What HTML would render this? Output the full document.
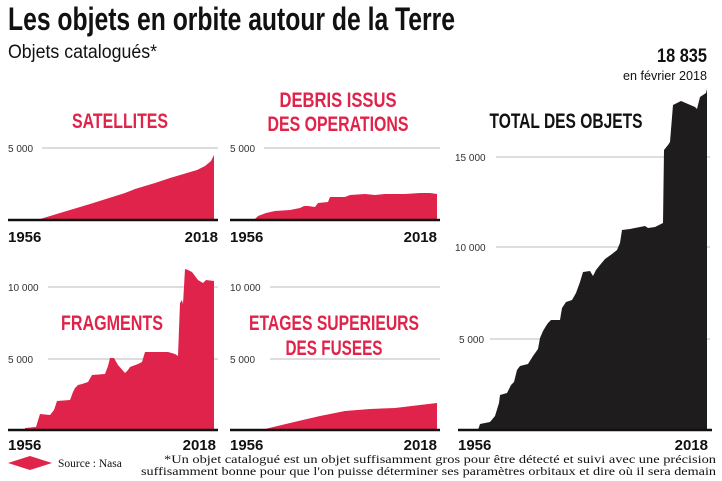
<!DOCTYPE html>
<html><head><meta charset="utf-8"><style>
body{margin:0;background:#fff;}
svg{display:block;}
.t{font-family:"Liberation Sans Narrow","Liberation Sans",sans-serif;font-weight:bold;}
.n{font-family:"Liberation Sans Narrow","Liberation Sans",sans-serif;}
.y{font-family:"Liberation Sans",sans-serif;font-weight:bold;font-size:15px;fill:#111;}
.g{font-family:"Liberation Sans",sans-serif;font-size:10px;fill:#333;}
.s{font-family:"Liberation Serif",serif;font-size:11.5px;fill:#111;}
</style></head><body>
<svg width="722" height="481" viewBox="0 0 722 481" xmlns="http://www.w3.org/2000/svg">
<text x="8" y="30" class="t" font-size="32" fill="#111" textLength="447" lengthAdjust="spacingAndGlyphs">Les objets en orbite autour de la Terre</text>
<text x="8" y="58" class="n" font-size="19" fill="#111" textLength="149" lengthAdjust="spacingAndGlyphs">Objets catalogués*</text>

<!-- gridlines -->
<g stroke="#bbb" stroke-width="1">
<line x1="42" y1="148" x2="218" y2="148"/>
<line x1="264" y1="148" x2="440" y2="148"/>
<line x1="48" y1="287" x2="218" y2="287"/>
<line x1="48" y1="359" x2="218" y2="359"/>
<line x1="270" y1="287" x2="440" y2="287"/>
<line x1="270" y1="359" x2="440" y2="359"/>
<line x1="496" y1="157" x2="710" y2="157"/>
<line x1="496" y1="247" x2="710" y2="247"/>
<line x1="490" y1="339" x2="710" y2="339"/>
</g>
<g class="g">
<text x="8" y="152">5 000</text>
<text x="230" y="152">5 000</text>
<text x="8" y="291">10 000</text>
<text x="8" y="363">5 000</text>
<text x="230" y="291">10 000</text>
<text x="230" y="363">5 000</text>
<text x="455" y="161">15 000</text>
<text x="455" y="251">10 000</text>
<text x="459" y="343">5 000</text>
</g>

<!-- satellites -->
<path fill="#e0234a" d="M37,220 L60,213 L90,204 L125,193 L135,189 L155,183 L170,178 L197,170 L205,166 L211,161 L214,155 L214,220 Z"/>
<!-- debris -->
<path fill="#e0234a" d="M254,220 L258,216 L266,213 L275,211 L290,210 L300,208 L304,206 L308,206 L315,207 L318,203 L328,202 L330,197 L345,197 L350,195 L365,194 L375,195 L385,194 L405,194 L420,193 L430,193 L437,194 L437,220 Z"/>
<!-- fragments -->
<path fill="#e0234a" d="M25,430 L25,428 L36,427 L40,414 L50,415 L54,410 L57,401 L70,400 L73,392 L75,388 L78,385 L82,384 L88,382 L92,375 L105,374 L108,366 L110,358 L114,358 L118,365 L125,373 L128,370 L130,367 L138,364 L142,362 L145,352 L158,352 L168,352 L175,354 L178,356 L180,303 L182,300 L183,304 L185,269 L188,270 L192,272 L198,280 L203,283 L206,280 L214,281 L214,430 Z"/>
<!-- etages -->
<path fill="#e0234a" d="M255,430 L265,429 L290,423 L320,416 L345,411 L370,409 L395,408 L420,405 L437,403 L437,430 Z"/>
<!-- total -->
<path fill="#1e1c1c" d="M478,430 L480,424 L490,422 L495,416 L499,403 L500,395 L507,393 L511,385 L514,382 L517,370 L520,366 L528,364 L533,356 L538,349 L540,338 L543,331 L546,326 L548,323 L551,320 L560,320 L562,308 L566,302 L572,300 L576,293 L580,282 L583,272 L590,271 L593,276 L596,270 L600,265 L605,259 L612,254 L617,250 L620,243 L622,230 L630,229 L640,227 L645,226 L648,228 L655,227 L663,223 L664,150 L668,145 L670,142 L673,105 L681,101 L695,107 L697,109 L700,97 L706,93 L707,89 L707,430 Z"/>

<!-- baselines -->
<g stroke="#111" stroke-width="2.5">
<line x1="8" y1="220" x2="218" y2="220"/>
<line x1="230" y1="220" x2="440" y2="220"/>
<line x1="8" y1="430" x2="218" y2="430"/>
<line x1="230" y1="430" x2="440" y2="430"/>
<line x1="458" y1="430" x2="712" y2="430"/>
</g>
<g class="y">
<text x="8" y="242">1956</text><text x="218" y="242" text-anchor="end">2018</text>
<text x="230" y="242">1956</text><text x="437" y="242" text-anchor="end">2018</text>
<text x="8" y="450">1956</text><text x="216" y="450" text-anchor="end">2018</text>
<text x="230" y="450">1956</text><text x="437" y="450" text-anchor="end">2018</text>
<text x="458" y="450">1956</text><text x="708" y="450" text-anchor="end">2018</text>
</g>

<g class="t" font-size="21" fill="#e0234a" text-anchor="middle">
<text x="120" y="128" textLength="96" lengthAdjust="spacingAndGlyphs">SATELLITES</text>
<text x="338" y="107" textLength="117" lengthAdjust="spacingAndGlyphs">DEBRIS ISSUS</text>
<text x="338" y="131" textLength="141" lengthAdjust="spacingAndGlyphs">DES OPERATIONS</text>
<text x="112" y="330" textLength="102" lengthAdjust="spacingAndGlyphs">FRAGMENTS</text>
<text x="334" y="330" textLength="170" lengthAdjust="spacingAndGlyphs">ETAGES SUPERIEURS</text>
<text x="334" y="355" textLength="97" lengthAdjust="spacingAndGlyphs">DES FUSEES</text>
</g>
<text x="566" y="128" text-anchor="middle" class="t" font-size="21" fill="#111" textLength="153" lengthAdjust="spacingAndGlyphs">TOTAL DES OBJETS</text>
<text x="707" y="62" text-anchor="end" class="t" font-size="19" fill="#111" textLength="50" lengthAdjust="spacingAndGlyphs">18 835</text>
<text x="707" y="80" text-anchor="end" class="n" font-size="13" fill="#111" textLength="84" lengthAdjust="spacingAndGlyphs">en février 2018</text>

<path fill="#e0234a" d="M8,463 L30,456 L52,463 L30,470 Z"/>
<text x="58" y="467" class="s" font-size="11">Source : Nasa</text>
<text x="716" y="463" text-anchor="end" class="s" textLength="552" lengthAdjust="spacingAndGlyphs">*Un objet catalogué est un objet suffisamment gros pour être détecté et suivi avec une précision</text>
<text x="716" y="475" text-anchor="end" class="s" textLength="575" lengthAdjust="spacingAndGlyphs">suffisamment bonne pour que l'on puisse déterminer ses paramètres orbitaux et dire où il sera demain</text>
</svg>
</body></html>
